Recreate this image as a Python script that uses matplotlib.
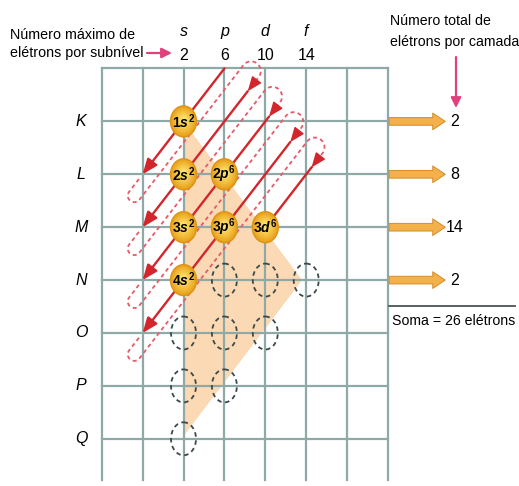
import matplotlib.pyplot as plt
import numpy as np
from matplotlib.patches import Ellipse, Polygon
from matplotlib.colors import to_rgb

# data
shells = ['K', 'L', 'M', 'N', 'O', 'P', 'Q']
subshells = ['s', 'p', 'd', 'f']
max_sub = [2, 6, 10, 14]
n_sub = [1, 2, 3, 4, 3, 2, 1]          # subshells drawn in each shell
filled = [('1s', 2), ('2s', 2), ('2p', 6), ('3s', 2), ('3p', 6), ('4s', 2), ('3d', 6)]
shell_totals = [2, 8, 14, 2]
soma = 26

plt.rcParams['font.family'] = ['Liberation Sans', 'DejaVu Sans']
plt.rcParams['mathtext.fontset'] = 'custom'
plt.rcParams['mathtext.rm'] = 'Liberation Sans:bold'
plt.rcParams['mathtext.it'] = 'Liberation Sans:italic:bold'

# column/row -> pixel scale
X0, SX = 183.5, 40.9
Y0, SY = 68.5, 52.9
W, H = 519, 486

fig = plt.figure(figsize=(W / 100, H / 100), dpi=100)
ax = fig.add_axes([0, 0, 1, 1])
ax.set_xlim(-X0 / SX, (W - X0) / SX)
ax.set_ylim((H - Y0) / SY, -Y0 / SY)
ax.axis('off')

def px2d(p):
    return np.array([p[0] / SX, p[1] / SY])

def cx(px):
    return (px - X0) / SX

def ry(py):
    return (py - Y0) / SY

grid_c = '#8fa9a7'
red = '#d3262c'
red_d = '#e65a6a'
pink = '#e2407c'

# beige area behind the orbitals
ax.add_patch(Polygon([(0, 1), (2.9, 4), (0, 6.95)], closed=True,
                     fc='#fbd9b4', ec='none', zorder=1))

# grid
for c in range(-2, 6):
    ax.plot([c, c], [0, ry(480)], color=grid_c, lw=1.6, zorder=2)
for r in range(0, len(shells) + 1):
    ax.plot([-2, 5], [r, r], color=grid_c, lw=1.6, zorder=2)

# row labels
for i, s in enumerate(shells):
    ax.text(-2.5, i + 1, s, ha='center', va='center', fontsize=11.5,
            style='italic', zorder=5)

# header
for j, (s, m) in enumerate(zip(subshells, max_sub)):
    ax.text(j, ry(36), s, ha='center', va='baseline', fontsize=11.5,
            style='italic')
    ax.text(j, ry(60), str(m), ha='center', va='baseline', fontsize=11.5)
ax.text(cx(10), ry(39), 'Número máximo de', fontsize=10.3, va='baseline')
ax.text(cx(10), ry(57), 'elétrons por subnível', fontsize=10.3, va='baseline')
ax.annotate('', xy=(cx(172), ry(53)), xytext=(cx(147), ry(53)),
            arrowprops=dict(arrowstyle='-|>,head_length=0.5,head_width=0.25',
                            color=pink, lw=1.6, mutation_scale=12,
                            shrinkA=0, shrinkB=0))
ax.text(cx(390), ry(25), 'Número total de', fontsize=10.2, va='baseline')
ax.text(cx(390), ry(46), 'elétrons por camada', fontsize=10.2, va='baseline')
ax.annotate('', xy=(cx(456), ry(108)), xytext=(cx(456), ry(57)),
            arrowprops=dict(arrowstyle='-|>,head_length=0.5,head_width=0.25',
                            color=pink, lw=1.6, mutation_scale=12,
                            shrinkA=0, shrinkB=0))

# diagonal arrows (n + l = k)
def start(k):
    r = max(0.48 * k - 0.53, 0)
    return np.array([k - r, r])

nk = 5
for k in range(1, nk + 1):
    S = start(k)
    if k < nk:
        E = np.array([-1, k + 1])
        ax.annotate('', xy=E, xytext=S,
                    arrowprops=dict(arrowstyle='-|>,head_length=0.75,head_width=0.3',
                                    color=red, lw=1.7, mutation_scale=12,
                                    shrinkA=0, shrinkB=0), zorder=3)
    else:
        E = np.array([2, 3])
        ax.plot([S[0], E[0]], [S[1], E[1]], color=red, lw=1.7, zorder=3)

# dashed return loops, built in pixel space
dvec = np.array([-SX, SY]); dvec = dvec / np.linalg.norm(dvec)
uvec = -dvec
nvec = np.array([dvec[1], -dvec[0]])
for k in range(1, nk):
    Hd = np.array([-1, k + 1])
    Sd = start(k + 1)
    Hp = Hd * [SX, SY]
    Sp = Sd * [SX, SY]
    wt = (Sp - Hp) @ nvec
    sS = (Sp - Hp) @ uvec
    w, a, b = 13.0, 22.0, 18.0
    r1, r2 = w / 2, (wt - w) / 2
    pts = [Hp + 6 * dvec]
    t = np.linspace(0, np.pi, 25)
    C1 = Hp + a * dvec + r1 * nvec
    pts += list(C1 + np.outer(-np.cos(t), nvec) * r1 + np.outer(np.sin(t), dvec) * r1)
    C2 = Hp + (sS + b) * uvec + (w + r2) * nvec
    pts += list(C2 + np.outer(-np.cos(t), nvec) * r2 + np.outer(np.sin(t), uvec) * r2)
    pts.append(Sp - 8 * dvec)
    pts = np.array(pts) / [SX, SY]
    ax.plot(pts[:, 0], pts[:, 1], color=red_d, lw=1.3, ls=(0, (2.2, 1.8)), zorder=3)
    ax.annotate('', xy=Sd, xytext=Sd - px2d(9 * dvec),
                arrowprops=dict(arrowstyle='-|>,head_length=0.75,head_width=0.3',
                                color=red, lw=1.0, mutation_scale=12,
                                shrinkA=0, shrinkB=0), zorder=3)

# orbitals
filled_names = [f for f, e in filled]
for i in range(len(shells)):
    for j in range(n_sub[i]):
        name = f'{i + 1}{subshells[j]}'
        if name in filled_names:
            continue
        ax.add_patch(Ellipse((j, i + 1), 25 / SX, 33 / SY, fill=False,
                             ec='#3b4a48', lw=1.3, ls=(0, (2.5, 2)), zorder=4))

rim, core = np.array(to_rgb('#e9a21c')), np.array(to_rgb('#fde068'))
for name, e in filled:
    n = int(name[0]); j = subshells.index(name[1])
    ax.add_patch(Ellipse((j, n), 26 / SX, 31 / SY, fc=rim,
                         ec='#dc9418', lw=1.0, zorder=4))
    for f in np.linspace(0, 1, 8)[1:]:
        col = rim + (core - rim) * f
        ax.add_patch(Ellipse((j, n - 0.02 * f), 26 * (1 - 0.75 * f) / SX,
                             31 * (1 - 0.75 * f) / SY, fc=col, ec='none',
                             zorder=4))
    ax.text(j, n, f'{n}$\\mathit{{{name[1]}}}^{{{e}}}$', ha='center',
            va='center', fontsize=10, fontweight='bold', zorder=5)

# totals per shell
for i, t in enumerate(shell_totals):
    ax.annotate('', xy=(6.4, i + 1), xytext=(5.03, i + 1),
                arrowprops=dict(arrowstyle='simple,head_length=0.9,head_width=1.2,tail_width=0.55',
                                mutation_scale=10, fc='#f4b04a', ec='#d38d28',
                                lw=0.7, shrinkA=0, shrinkB=0))
    ax.text(6.64, i + 1, str(t), ha='center', va='center', fontsize=11.5)

ax.plot([5.03, cx(515)], [ry(306), ry(306)], color='#4a5654', lw=1.3)
ax.text(cx(392), ry(325), f'Soma = {soma} elétrons', fontsize=10.2,
        va='baseline')

fig.savefig('out.png', dpi=100)
